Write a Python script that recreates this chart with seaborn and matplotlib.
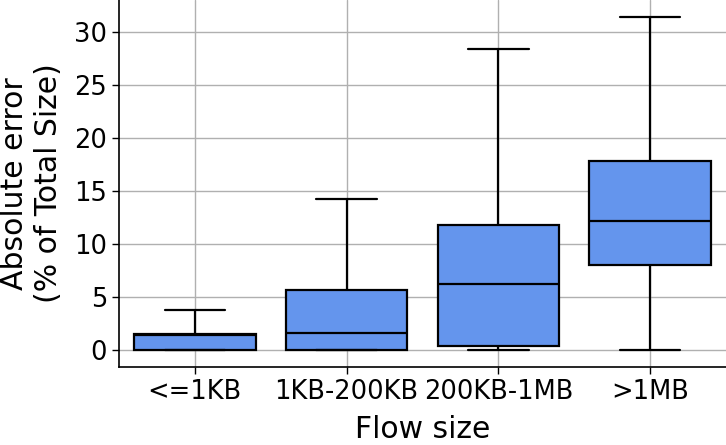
import pandas as pd
import matplotlib
matplotlib.use('Agg')
import matplotlib.pyplot as plt
import seaborn as sns

# five-number summaries (min, q1, median, q3, max)
categories = ['<=1KB', '1KB-200KB', '200KB-1MB', '>1MB']
stats = {
    '<=1KB':     [0.0, 0.0, 1.4, 1.5, 3.8],
    '1KB-200KB': [0.0, 0.0, 1.6, 5.7, 14.2],
    '200KB-1MB': [0.0, 0.4, 6.2, 11.8, 28.4],
    '>1MB':      [0.0, 8.0, 12.2, 17.8, 31.4],
}

df = pd.DataFrame(
    [(cat, v) for cat in categories for v in stats[cat]],
    columns=['Flow size', 'err'],
)

sns.set_style('ticks')
plt.rcParams['font.family'] = ['DejaVu Sans']
plt.rcParams['text.color'] = 'black'
plt.rcParams['axes.labelcolor'] = 'black'
plt.rcParams['xtick.color'] = 'black'
plt.rcParams['ytick.color'] = 'black'

fig = plt.figure(figsize=(7.26, 4.45), dpi=100)
ax = fig.add_axes([119 / 726, 78 / 445, 607 / 726, 367 / 445])

sns.boxplot(data=df, x='Flow size', y='err', order=categories, color='#6495ED',
            saturation=1, whis=(0, 100), width=0.8, linecolor='black',
            linewidth=1.6, showfliers=False, ax=ax)

ax.grid(True, axis='both', color='#b0b0b0', linewidth=1)
ax.set_axisbelow(True)

ax.set_xlabel('Flow size', fontsize=21.5, labelpad=7)
ax.set_ylabel('Absolute error\n(% of Total Size)', fontsize=21.5, labelpad=8)
ax.tick_params(labelsize=18.5, length=5, width=1)
ax.set_yticks([0, 5, 10, 15, 20, 25, 30])
ax.set_ylim(-1.57, 32.97)
for s in ['left', 'bottom']:
    ax.spines[s].set_color('black')
    ax.spines[s].set_linewidth(1.2)
sns.despine(ax=ax)

fig.savefig('out.png', dpi=100)
